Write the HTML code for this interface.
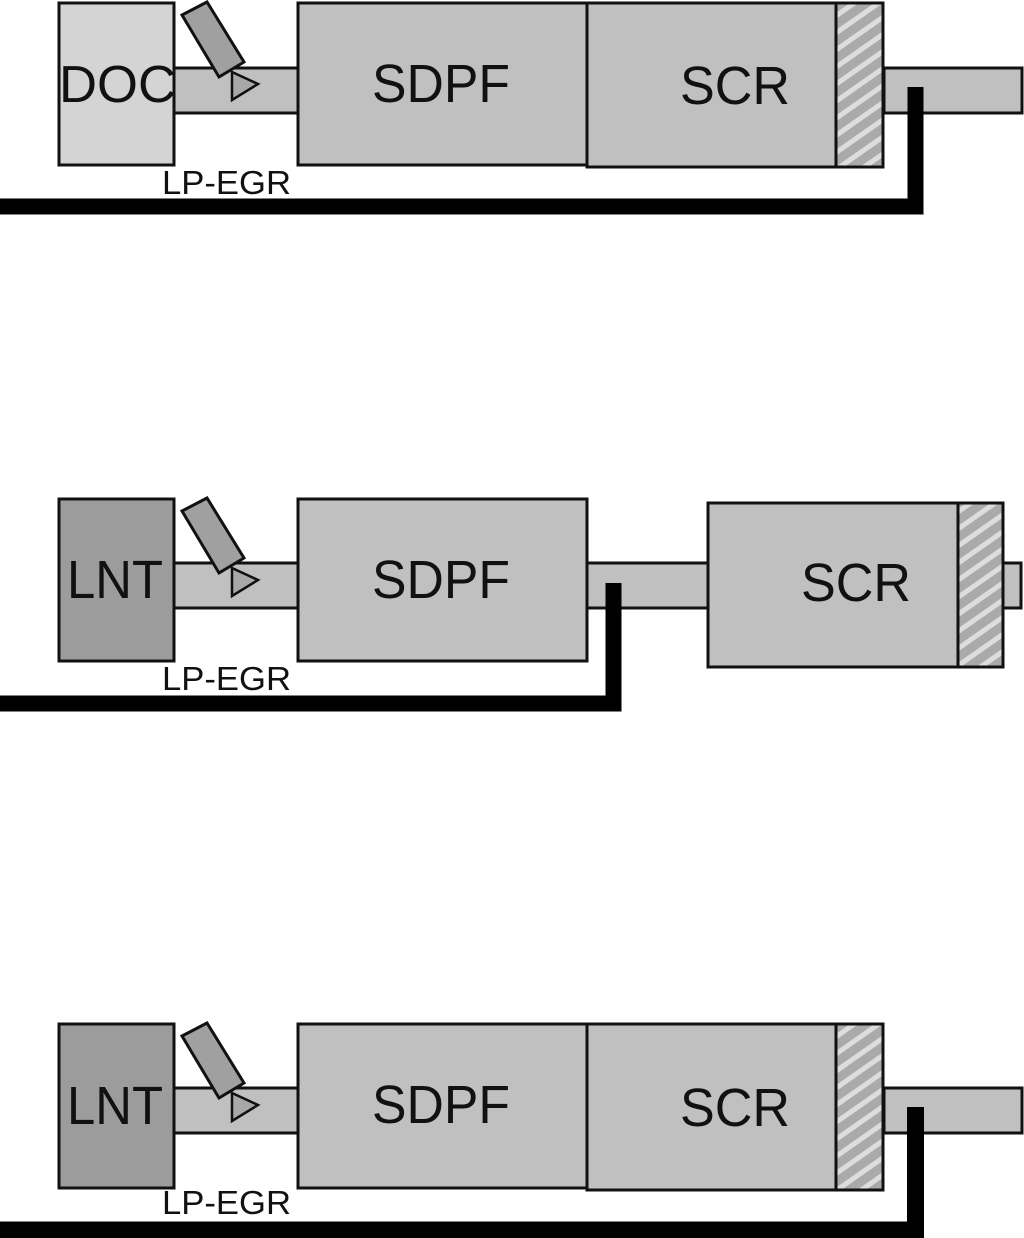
<!DOCTYPE html>
<html><head><meta charset="utf-8"><style>
html,body{margin:0;padding:0;background:#fff;width:1024px;height:1238px;overflow:hidden}
svg{display:block}
text{font-family:"Liberation Sans",Arial,sans-serif;fill:#111}
</style></head><body>
<svg width="1024" height="1238" viewBox="0 0 1024 1238" xmlns="http://www.w3.org/2000/svg">
<defs>
<pattern id="h" patternUnits="userSpaceOnUse" width="14" height="14" patternTransform="rotate(-35)">
<rect width="14" height="14" fill="#aaa"/><rect width="14" height="5" fill="#ddd"/>
</pattern>
<g id="sensor">
<polygon points="182,15 207,2 244,62 219,77" fill="#a0a0a0" stroke="#111" stroke-width="3"/>
<polygon points="232,72 258,84 232,100" fill="#a8a8a8" stroke="#111" stroke-width="2.5"/>
</g>
</defs>

<!-- Diagram 1 -->
<g>
<rect x="174" y="68" width="124" height="45" fill="#c0c0c0" stroke="#111" stroke-width="3"/>
<rect x="884" y="68" width="138" height="45" fill="#c0c0c0" stroke="#111" stroke-width="3"/>
<rect x="59" y="3" width="115" height="162" fill="#d4d4d4" stroke="#111" stroke-width="3"/>
<text x="59" y="102" font-size="52" textLength="117" lengthAdjust="spacingAndGlyphs">DOC</text>
<use href="#sensor"/>
<rect x="298" y="3" width="289" height="162" fill="#c0c0c0" stroke="#111" stroke-width="3"/>
<text x="372" y="102" font-size="54" textLength="138" lengthAdjust="spacingAndGlyphs">SDPF</text>
<rect x="587" y="3" width="249" height="164" fill="#c0c0c0" stroke="#111" stroke-width="3"/>
<text x="680" y="104" font-size="54" textLength="110" lengthAdjust="spacingAndGlyphs">SCR</text>
<rect x="836" y="3" width="47" height="164" fill="url(#h)" stroke="#111" stroke-width="3"/>
<text x="162" y="194" font-size="33" fill="#222" textLength="129" lengthAdjust="spacingAndGlyphs">LP-EGR</text>
<polyline points="0,206.5 915.5,206.5 915.5,87" fill="none" stroke="#000" stroke-width="16"/>
</g>

<!-- Diagram 2 -->
<g transform="translate(0,496)">
<rect x="174" y="67" width="124" height="45" fill="#c0c0c0" stroke="#111" stroke-width="3"/>
<rect x="587" y="67" width="121" height="45" fill="#c0c0c0" stroke="#111" stroke-width="3"/>
<rect x="1003" y="67" width="18" height="45" fill="#c0c0c0" stroke="#111" stroke-width="3"/>
<rect x="59" y="3" width="115" height="162" fill="#9c9c9c" stroke="#111" stroke-width="3"/>
<text x="67" y="102" font-size="54" textLength="96" lengthAdjust="spacingAndGlyphs">LNT</text>
<use href="#sensor"/>
<rect x="298" y="3" width="289" height="162" fill="#c0c0c0" stroke="#111" stroke-width="3"/>
<text x="372" y="102" font-size="54" textLength="138" lengthAdjust="spacingAndGlyphs">SDPF</text>
<rect x="708" y="7" width="250" height="164" fill="#c0c0c0" stroke="#111" stroke-width="3"/>
<text x="801" y="105" font-size="54" textLength="110" lengthAdjust="spacingAndGlyphs">SCR</text>
<rect x="958" y="7" width="45" height="164" fill="url(#h)" stroke="#111" stroke-width="3"/>
<text x="162" y="194" font-size="33" fill="#222" textLength="129" lengthAdjust="spacingAndGlyphs">LP-EGR</text>
<polyline points="0,207.5 613.5,207.5 613.5,87" fill="none" stroke="#000" stroke-width="16"/>
</g>

<!-- Diagram 3 -->
<g transform="translate(0,1021)">
<rect x="174" y="67" width="124" height="45" fill="#c0c0c0" stroke="#111" stroke-width="3"/>
<rect x="884" y="67" width="138" height="45" fill="#c0c0c0" stroke="#111" stroke-width="3"/>
<rect x="59" y="3" width="115" height="164" fill="#9c9c9c" stroke="#111" stroke-width="3"/>
<text x="67" y="103" font-size="54" textLength="96" lengthAdjust="spacingAndGlyphs">LNT</text>
<use href="#sensor"/>
<rect x="298" y="3" width="289" height="164" fill="#c0c0c0" stroke="#111" stroke-width="3"/>
<text x="372" y="102" font-size="54" textLength="138" lengthAdjust="spacingAndGlyphs">SDPF</text>
<rect x="587" y="3" width="249" height="166" fill="#c0c0c0" stroke="#111" stroke-width="3"/>
<text x="680" y="105" font-size="54" textLength="110" lengthAdjust="spacingAndGlyphs">SCR</text>
<rect x="836" y="3" width="47" height="166" fill="url(#h)" stroke="#111" stroke-width="3"/>
<text x="162" y="193" font-size="33" fill="#222" textLength="129" lengthAdjust="spacingAndGlyphs">LP-EGR</text>
<polyline points="0,209 915.5,209 915.5,86" fill="none" stroke="#000" stroke-width="17"/>
</g>
</svg>
</body></html>
